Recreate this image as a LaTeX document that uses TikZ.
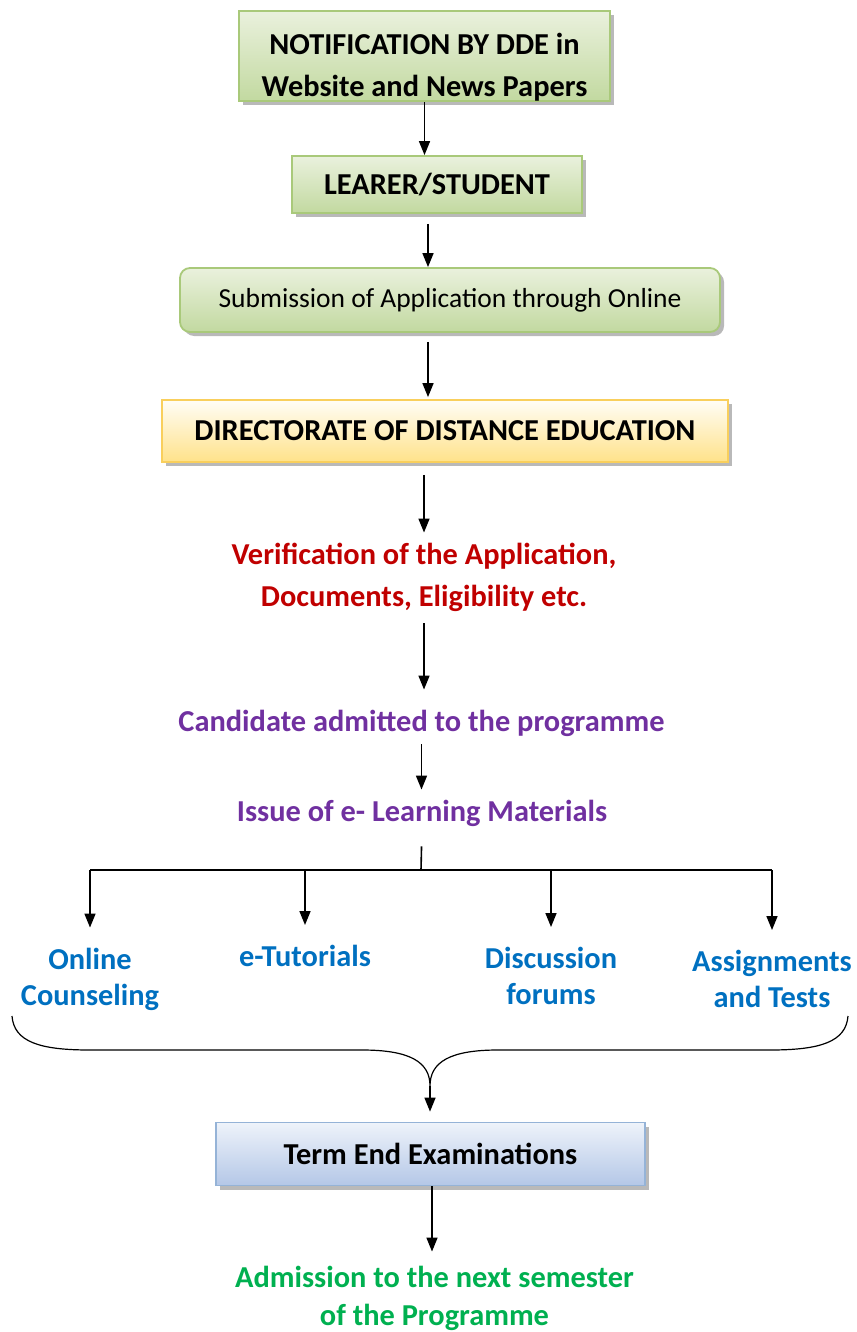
\documentclass[tikz,border=0pt]{standalone}
\usepackage{fontspec}
\setmainfont{Carlito}
\usetikzlibrary{arrows.meta,shadows}
\definecolor{greenline}{HTML}{A9C97A}
\definecolor{greentop}{HTML}{EAF1DD}
\definecolor{greenbot}{HTML}{C2D9A0}
\definecolor{goldline}{HTML}{F9CF5C}
\definecolor{goldtop}{HTML}{FFFDF6}
\definecolor{goldbot}{HTML}{FFE28A}
\definecolor{blueline}{HTML}{95B3D7}
\definecolor{bluetop}{HTML}{EEF3FA}
\definecolor{bluebot}{HTML}{B4C7E7}
\definecolor{redtxt}{HTML}{C00000}
\definecolor{purpletxt}{HTML}{7030A0}
\definecolor{bluetxt}{HTML}{0070C0}
\definecolor{greentxt}{HTML}{00B050}
\begin{document}
\begin{tikzpicture}[x=1pt,y=-1pt,
    arr/.style={-{Triangle[length=14pt,width=11pt]}, line width=1.6pt},
    flowbox/.style={draw, line width=1.8pt, inner sep=0pt, align=center,
        drop shadow={shadow xshift=4pt, shadow yshift=-4pt, fill=black!50, opacity=0.55}},
    greenbox/.style={flowbox, draw=greenline, top color=greentop, bottom color=greenbot},
    goldbox/.style={flowbox, draw=goldline, top color=goldtop, bottom color=goldbot},
    bluebox/.style={flowbox, draw=blueline, top color=bluetop, bottom color=bluebot},
    boldtxt/.style={font=\fontsize{30.4}{42}\selectfont\bfseries, align=center, inner sep=0pt},
    reg/.style={font=\fontsize{27.5}{33}\selectfont}]
    \useasboundingbox (0,0) rectangle (856,1332);
    % boxes
    \node[greenbox, boldtxt, minimum width=371, minimum height=88] (notif) at (424.5,56)
        {\rule{0pt}{44pt}NOTIFICATION BY DDE in\\Website and News Papers};
    \node[greenbox, boldtxt, minimum width=290, minimum height=57] (learner) at (437,184.5) {LEARER/STUDENT};
    \node[greenbox, reg, rounded corners=10pt, minimum width=540, minimum height=64] (sub) at (450,300)
        {Submission of Application through Online};
    \node[goldbox, boldtxt, minimum width=566, minimum height=62] (dde) at (445,431)
        {DIRECTORATE OF DISTANCE EDUCATION};
    % coloured texts
    \node[boldtxt, text=redtxt] (verif) at (424,577) {Verification of the Application,\\Documents, Eligibility etc.};
    \node[boldtxt, text=purpletxt] (cand) at (421.5,723) {Candidate admitted to the programme};
    \node[boldtxt, text=purpletxt] (issue) at (422,813) {Issue of e- Learning Materials};
    \node[boldtxt, text=bluetxt, font=\fontsize{30.4}{36}\selectfont\bfseries] (online) at (90,979) {Online\\Counseling};
    \node[boldtxt, text=bluetxt] (tut) at (305,956) {e-Tutorials};
    \node[boldtxt, text=bluetxt, font=\fontsize{30.4}{36}\selectfont\bfseries] (disc) at (551,976) {Discussion\\forums};
    \node[boldtxt, text=bluetxt, font=\fontsize{30.4}{36}\selectfont\bfseries] (assign) at (772,979) {Assignments\\and Tests};
    \node[bluebox, boldtxt, minimum width=429, minimum height=63] (term) at (430.5,1154) {Term End Examinations};
    \node[boldtxt, text=greentxt, font=\fontsize{30.4}{38}\selectfont\bfseries] (admit) at (434.5,1298)
        {Admission to the next semester\\of the Programme};
    % arrows
    \draw[arr] (notif.south) -- (notif.south |- learner.north);
    \draw[arr, shorten <=10pt] ([xshift=-9pt]learner.south) -- ([xshift=-9pt]learner.south |- sub.north);
    \draw[arr, shorten <=9pt, shorten >=2pt] ([xshift=-22pt]sub.south) -- ([xshift=-22pt]sub.south |- dde.north);
    \draw[arr, shorten <=12pt, shorten >=10pt] (verif |- dde.south) -- (verif.north);
    \draw[arr, shorten <=12pt, shorten >=20pt] (verif.south) -- (verif.south |- cand.north);
    \draw[arr, shorten <=8pt, shorten >=10pt] (cand.south) -- (cand.south |- issue.north);
    % branches
    \coordinate (fork) at (421,870);
    \draw[line width=1.6pt, shorten <=20pt] (issue.south) -- (fork);
    \draw[line width=1.6pt] (online.center |- fork) -- (assign.center |- fork);
    \foreach \n in {online, tut, disc, assign}
        \draw[arr, shorten >=20pt] (\n.center |- fork) -- (\n.north);
    % brace
    \coordinate (cusp) at (430,1086);
    \draw[line width=1.2pt] (12,1016) .. controls (14,1042) and (40,1050) .. (90,1050) -- (362,1050)
        .. controls (410,1050) and (430,1062) .. (cusp)
        .. controls (430,1062) and (450,1050) .. (498,1050) -- (770,1050)
        .. controls (820,1050) and (846,1042) .. (848,1016);
    \draw[arr, shorten >=10pt] (cusp) -- (cusp |- term.north);
    \draw[arr, shorten >=14pt] (term.south -| 432,0) -- (admit.north -| 432,0);
\end{tikzpicture}
\end{document}
